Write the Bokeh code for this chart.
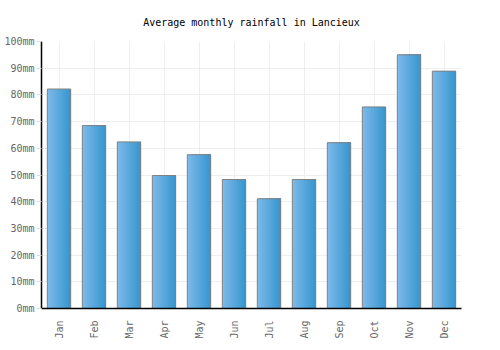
import math
from bokeh.plotting import figure
from bokeh.models import ColumnDataSource, FactorRange, Range1d, SingleIntervalTicker, CustomJSTickFormatter
from bokeh.transform import dodge
from bokeh.embed import file_html
from bokeh.resources import INLINE

months = ["Jan", "Feb", "Mar", "Apr", "May", "Jun", "Jul", "Aug", "Sep", "Oct", "Nov", "Dec"]
rainfall_mm = [82.2, 68.5, 62.4, 49.8, 57.6, 48.3, 41.1, 48.3, 62.1, 75.5, 95.0, 88.9]
title_text = "Average monthly rainfall in Lancieux"

src = ColumnDataSource(data=dict(month=months, rain=rainfall_mm))

FONT = "DejaVu Sans Mono"
x_range = FactorRange(factors=months, range_padding=0)
p = figure(width=500, height=350, x_range=x_range, y_range=Range1d(0, 100),
           output_backend="svg", toolbar_location=None, title=title_text,
           min_border_left=41, min_border_right=39, min_border_top=41, min_border_bottom=42)
p.outline_line_color = None
p.background_fill_color = "white"
p.border_fill_color = "white"

p.title.align = "center"
p.title.text_font = FONT
p.title.text_font_size = "10px"
p.title.text_font_style = "normal"
p.title.text_color = "#000000"
p.title.standoff = 28

# gradient bars via overlapping stripes (each stripe extends to the bar's right edge)
bar_w = 0.667
n = 16
sw = bar_w / n
c0 = (0x7c, 0xb9, 0xea)
c1 = (0x38, 0x97, 0xcf)
for i in range(n):
    t = i / (n - 1)
    col = "#%02x%02x%02x" % tuple(int(round(a + (b - a) * t)) for a, b in zip(c0, c1))
    left = -bar_w / 2 + i * sw
    right = bar_w / 2
    p.vbar(x=dodge("month", (left + right) / 2, range=x_range), top="rain", width=right - left,
           source=src, fill_color=col, line_color=None)
p.vbar(x="month", top="rain", width=bar_w, source=src, fill_alpha=0,
       line_color="#808080", line_width=1)

p.ygrid.grid_line_color = "#eeeeee"
p.xgrid.grid_line_color = "#eeeeee"
p.yaxis.ticker = SingleIntervalTicker(interval=10)
p.yaxis.formatter = CustomJSTickFormatter(code="return tick + 'mm';")
p.yaxis.minor_tick_line_color = None
p.yaxis.major_tick_line_color = "#dddddd"
p.yaxis.major_tick_out = 5
p.yaxis.major_tick_in = 0
p.xaxis.major_tick_line_color = None
p.xaxis.major_label_orientation = math.pi / 2
for ax in (p.xaxis, p.yaxis):
    ax.axis_line_color = "#000000"
    ax.axis_line_width = 1.5
    ax.major_label_text_font = FONT
    ax.major_label_text_font_size = "10px"
    ax.major_label_text_color = "#666666"
p.yaxis.major_label_standoff = 2
p.xaxis.major_label_standoff = 6

open("out.html", "w").write(file_html(p, INLINE))
